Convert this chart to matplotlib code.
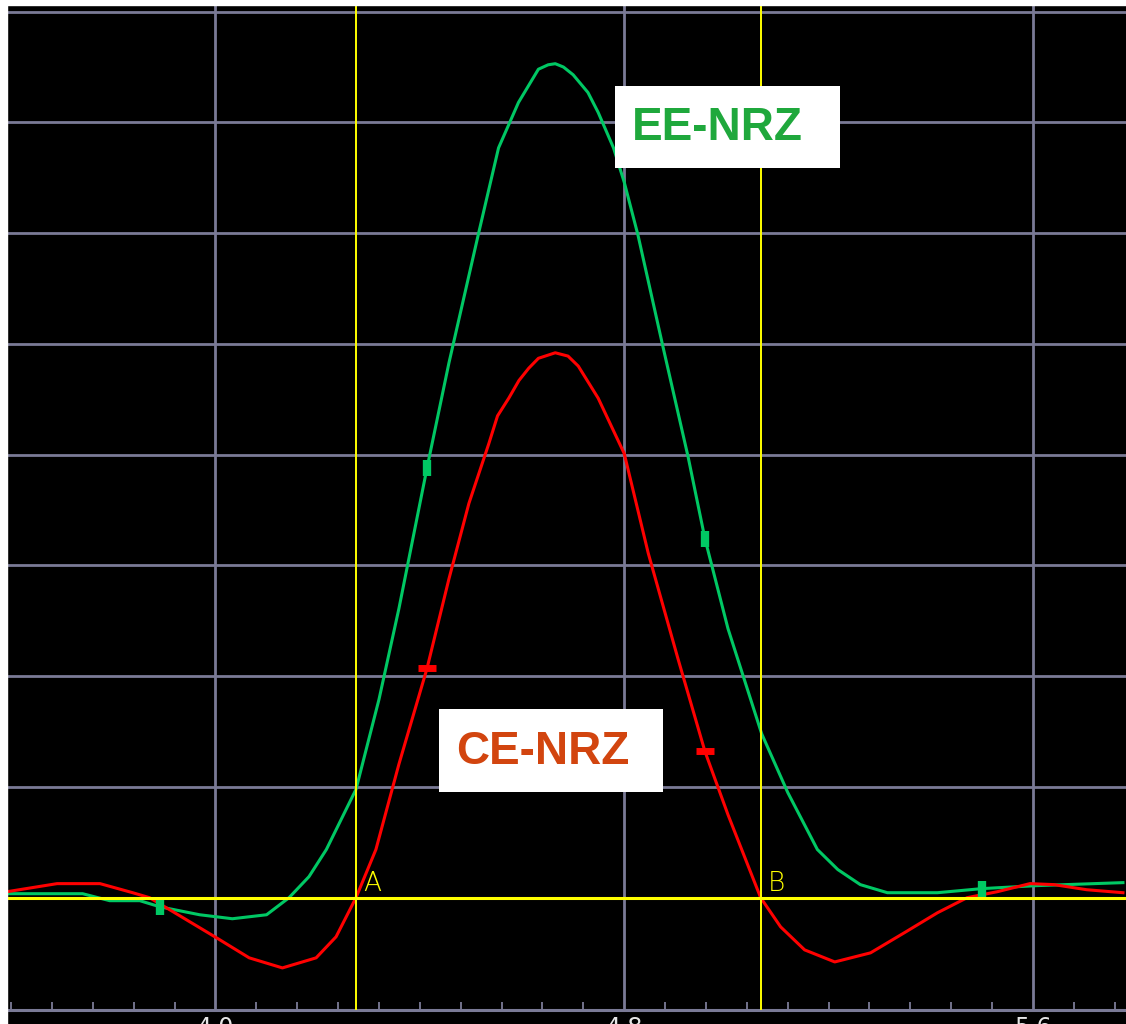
"""Eye-pulse comparison: EE-NRZ vs CE-NRZ on a scope-style black screen."""

import matplotlib.pyplot as plt
from matplotlib.patches import Rectangle

# time (ns) / amplitude (mV)
ee_t = [3.592, 3.740, 3.793, 3.852, 3.891, 3.969, 4.033, 4.100, 4.144, 4.183,
        4.217, 4.275, 4.320, 4.359, 4.414, 4.457, 4.515, 4.554, 4.574, 4.593,
        4.632, 4.651, 4.665, 4.681, 4.700, 4.729, 4.749, 4.779, 4.800, 4.827,
        4.876, 4.925, 4.958, 5.003, 5.069, 5.120, 5.178, 5.218, 5.262, 5.315,
        5.413, 5.500, 5.608, 5.776]
ee_v = [3.6, 3.6, -2.7, -2.7, -8.2, -15.4, -19.0, -15.4, 0.0, 19.0,
        43.5, 97.8, 179, 261, 388, 483, 600, 677, 698, 718,
        748, 752, 753, 750, 743, 727, 709, 677, 646, 598,
        497, 398, 324, 243, 148, 95, 43.5, 25.4, 11.8, 4.5,
        4.5, 8.2, 10.9, 13.6]

ce_t = [3.592, 3.690, 3.774, 3.838, 3.871, 3.904, 4.002, 4.066, 4.131, 4.197,
        4.236, 4.275, 4.314, 4.359, 4.414, 4.457, 4.496, 4.535, 4.552, 4.574,
        4.594, 4.613, 4.632, 4.665, 4.690, 4.710, 4.749, 4.800, 4.847, 4.905,
        4.958, 5.003, 5.067, 5.106, 5.153, 5.212, 5.282, 5.348, 5.413, 5.471,
        5.530, 5.594, 5.641, 5.705, 5.776]
ce_v = [5.4, 12.7, 12.7, 4.5, 0.0, -9.1, -36.2, -54.3, -63.4, -54.3,
        -35.3, 0.0, 43.5, 120.5, 207, 288, 356, 410, 435, 451,
        467, 478, 487, 492, 489, 480, 451, 401, 311, 216,
        132, 75, 0.0, -26.3, -47.1, -58.0, -49.8, -31.7, -13.6, 0.0,
        5.4, 12.7, 11.8, 7.2, 4.5]

ee_mark_t = [3.891, 4.414, 4.958, 5.500]
ee_mark_v = [-8.2, 388, 324, 8.2]
ce_mark_t = [4.414, 4.958]
ce_mark_v = [207, 132]

cursor_a = 4.275
cursor_b = 5.067
major_ticks = [4.0, 4.8, 5.6]
major_labels = ["4.0", "4.8", "5.6"]

GRID = "#7A7A96"
GREEN = "#00C864"
RED = "#FF0000"
YELLOW = "#FFFF00"

W, H = 1126, 1024
fig = plt.figure(figsize=(W / 100, H / 100), dpi=100, facecolor="black")
# white margins along top and left edge of the screenshot
fig.patches.append(Rectangle((0, 1 - 5 / H), 1, 5 / H, transform=fig.transFigure,
                             color="white", zorder=0))
fig.patches.append(Rectangle((0, 0), 7 / W, 1, transform=fig.transFigure,
                             color="white", zorder=0))

ax = fig.add_axes([7 / W, 1 - 1010 / H, 1 - 7 / W, 1005 / H])
ax.set_facecolor("black")
ax.set_xlim(3.592, 5.782)
ax.set_ylim(-101.4, 806)

for s in ["top", "left", "right"]:
    ax.spines[s].set_visible(False)
ax.spines["bottom"].set_color(GRID)
ax.spines["bottom"].set_linewidth(2.2)

ax.set_xticks(major_ticks)
ax.set_xticklabels(major_labels)
ax.set_xticks([3.6 + 0.08 * i for i in range(28)], minor=True)
ax.tick_params(axis="x", which="major", length=0, pad=4, labelsize=17,
               labelcolor="#E6E6E6")
ax.tick_params(axis="x", which="minor", direction="in", length=6, width=1.3,
               color=GRID)
ax.set_yticks([100 * i for i in range(9)])
ax.tick_params(axis="y", which="both", length=0, labelleft=False)
ax.grid(True, which="major", color=GRID, linewidth=2.0)
ax.set_axisbelow(True)

ax.plot(ee_t, ee_v, color=GREEN, linewidth=2.2, zorder=3)
ax.plot(ce_t, ce_v, color=RED, linewidth=2.2, zorder=3)
ax.plot(ee_mark_t, ee_mark_v, linestyle="none", marker="|", markersize=11,
        markeredgewidth=6, color=GREEN, zorder=4)
ax.plot(ce_mark_t, ce_mark_v, linestyle="none", marker="_", markersize=13,
        markeredgewidth=5, color=RED, zorder=4)

ax.axvline(cursor_a, color=YELLOW, linewidth=1.4, zorder=5)
ax.axvline(cursor_b, color=YELLOW, linewidth=1.4, zorder=5)
ax.axhline(0, color=YELLOW, linewidth=2.2, zorder=5)
ax.text(cursor_a + 0.014, 1.5, "A", color=YELLOW, fontsize=19,
        fontweight="light", ha="left", va="bottom", zorder=6)
ax.text(cursor_b + 0.014, 1.5, "B", color=YELLOW, fontsize=19,
        fontweight="light", ha="left", va="bottom", zorder=6)

# label boxes
ax.add_patch(Rectangle((0.5433, 0.8378), 0.2011, 0.0816, transform=ax.transAxes,
                       facecolor="white", edgecolor="none", zorder=7))
ax.text(0.6345, 0.8776, "EE-NRZ", transform=ax.transAxes, color="#1FA83C",
        fontsize=33, fontweight="bold", ha="center", va="center", zorder=8,
        family=["Liberation Sans Narrow", "Liberation Sans"])
ax.add_patch(Rectangle((0.3861, 0.2169), 0.2002, 0.0826, transform=ax.transAxes,
                       facecolor="white", edgecolor="none", zorder=7))
ax.text(0.479, 0.2567, "CE-NRZ", transform=ax.transAxes, color="#D2450F",
        fontsize=33, fontweight="bold", ha="center", va="center", zorder=8,
        family=["Liberation Sans Narrow", "Liberation Sans"])

fig.savefig("out.png", dpi=100, facecolor=fig.get_facecolor())
